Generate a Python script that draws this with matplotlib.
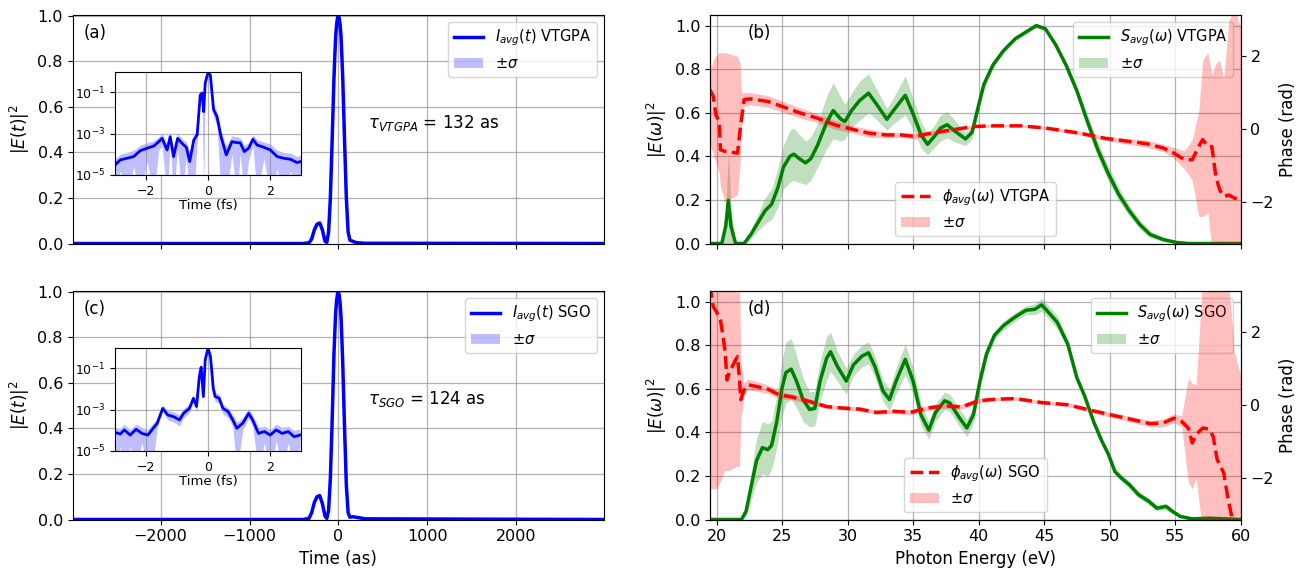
import numpy as np
import matplotlib
matplotlib.use("Agg")
import matplotlib.pyplot as plt
from matplotlib.ticker import NullLocator

# ---- time domain, main panels (as) ----
t_as = [-3000, -400, -330, -300, -270, -240, -210, -180, -150, -130, -110, -90, -70, -50,
        -40, -30, -20, -10, 0, 10, 20, 30, 40, 50, 70, 90, 110, 130, 160, 200, 300, 3000]
I_vtgpa = [0, 0, 0.003, 0.02, 0.06, 0.085, 0.09, 0.06, 0.01, 0.005, 0.05, 0.2, 0.45, 0.72,
           0.82, 0.91, 0.96, 0.99, 1.0, 0.99, 0.96, 0.91, 0.82, 0.72, 0.45, 0.2, 0.05, 0.015,
           0.01, 0.004, 0.001, 0]
I_sgo = [0, 0, 0.005, 0.03, 0.075, 0.1, 0.105, 0.07, 0.015, 0.005, 0.04, 0.18, 0.43, 0.72,
         0.82, 0.91, 0.96, 0.99, 1.0, 0.985, 0.95, 0.89, 0.79, 0.68, 0.4, 0.15, 0.03, 0.01,
         0.012, 0.01, 0.003, 0]
sig_I = [0, 0, 0.002, 0.004, 0.005, 0.006, 0.006, 0.005, 0.004, 0.004, 0.005, 0.008, 0.01, 0.01,
         0.009, 0.008, 0.006, 0.005, 0.004, 0.005, 0.006, 0.008, 0.009, 0.01, 0.01, 0.008, 0.005,
         0.003, 0.002, 0.002, 0.001, 0]

# ---- insets (fs, log10 of intensity) ----
tin_a = [-3.0, -2.83, -2.61, -2.40, -2.18, -1.97, -1.75, -1.59, -1.48, -1.32, -1.22, -1.11, -0.98,
         -0.84, -0.70, -0.59, -0.46, -0.35, -0.25, -0.19, -0.14, -0.09, 0.0, 0.075, 0.18, 0.29,
         0.42, 0.59, 0.77, 0.94, 1.04, 1.17, 1.31, 1.45, 1.58, 1.80, 2.01, 2.23, 2.44, 2.66, 2.87, 3.0]
lin_a = [-4.52, -4.27, -4.19, -4.11, -3.82, -3.71, -3.60, -3.39, -3.23, -3.79, -3.15, -4.11, -3.23,
         -3.47, -3.66, -4.35, -3.31, -3.06, -1.13, -1.05, -1.94, -0.56, -0.05, -0.16, -1.85, -2.18,
         -3.15, -4.03, -3.39, -3.44, -3.44, -3.87, -3.71, -3.27, -3.55, -3.66, -3.79, -4.11, -4.19,
         -4.24, -4.40, -4.35]
lup_a = [-4.2, -4.0, -3.9, -3.8, -3.55, -3.45, -3.35, -3.15, -3.0, -3.5, -2.95, -3.7, -3.0,
         -3.25, -3.4, -3.9, -3.05, -2.85, -0.95, -0.9, -1.6, -0.4, 0.0, -0.05, -1.6, -1.95,
         -2.85, -3.6, -3.1, -3.15, -3.2, -3.55, -3.45, -3.05, -3.3, -3.4, -3.5, -3.8, -3.9,
         -3.95, -4.1, -4.05]
llo_a = [-6, -4.8, -6, -4.6, -6, -4.3, -6, -3.8, -3.6, -6, -3.5, -6, -3.7,
         -6, -4.2, -6, -6, -3.5, -1.4, -1.3, -6, -0.75, -0.1, -0.3, -2.2, -2.6,
         -6, -6, -4.0, -6, -4.0, -6, -4.3, -3.6, -6, -4.2, -6, -4.7, -6,
         -4.8, -6, -4.8]

tin_c = [-2.98, -2.83, -2.70, -2.51, -2.32, -2.13, -1.94, -1.81, -1.64, -1.46, -1.30, -1.11, -0.92,
         -0.79, -0.60, -0.47, -0.37, -0.28, -0.22, -0.15, -0.09, 0.0, 0.08, 0.17, 0.23, 0.36,
         0.48, 0.65, 0.80, 0.93, 1.12, 1.31, 1.44, 1.63, 1.82, 2.01, 2.20, 2.39, 2.59, 2.78, 2.97]
lin_c = [-4.11, -4.18, -3.98, -4.23, -3.95, -4.15, -4.23, -3.98, -3.66, -2.94, -3.26, -3.34, -3.50,
         -3.18, -2.94, -2.45, -2.85, -1.40, -0.95, -2.37, -0.60, -0.03, -0.44, -1.97, -2.37, -2.45,
         -2.94, -3.10, -3.50, -3.90, -3.66, -3.18, -3.50, -4.15, -4.06, -4.23, -3.98, -4.15, -4.06,
         -4.31, -4.23]
lup_c = [-3.85, -3.9, -3.7, -3.95, -3.7, -3.85, -3.95, -3.7, -3.45, -2.8, -3.05, -3.1, -3.25,
         -2.95, -2.75, -2.3, -2.65, -1.25, -0.85, -2.1, -0.5, 0.0, -0.35, -1.75, -2.15, -2.25,
         -2.75, -2.9, -3.25, -3.6, -3.4, -2.95, -3.25, -3.85, -3.8, -3.95, -3.7, -3.85, -3.8,
         -4.0, -3.95]
llo_c = [-6, -4.8, -6, -4.8, -6, -4.6, -6, -6, -3.9, -3.1, -3.5, -3.6, -3.8,
         -3.4, -3.15, -2.6, -3.1, -1.6, -1.1, -2.7, -0.7, -0.06, -0.6, -2.3, -2.6, -2.7,
         -3.2, -3.4, -3.8, -6, -4.0, -3.4, -3.8, -6, -4.6, -6, -4.5, -6, -4.6,
         -6, -4.8]

# ---- spectra (eV) ----
E_b = [19.5, 20.4, 20.7, 20.9, 21.1, 21.45, 22.1, 22.6, 23.2, 23.7, 24.2, 24.7, 25.1, 25.6, 25.9,
       26.3, 26.8, 27.2, 27.7, 28.4, 28.9, 29.5, 29.8, 30.3, 30.9, 31.6, 32.2, 33.0, 33.5, 34.4,
       35.0, 35.6, 36.1, 36.6, 37.1, 37.6, 38.2, 39.0, 39.5, 39.9, 40.4, 41.1, 41.9, 42.8, 43.6,
       44.4, 45.1, 45.9, 46.7, 47.5, 48.3, 49.1, 49.9, 50.7, 51.5, 52.3, 53.1, 54.1, 55.1, 56.0, 60.0]
S_b = [0, 0, 0.08, 0.198, 0.08, 0, 0, 0.04, 0.10, 0.15, 0.18, 0.26, 0.35, 0.40, 0.41,
       0.39, 0.37, 0.39, 0.45, 0.555, 0.61, 0.57, 0.56, 0.61, 0.655, 0.69, 0.64, 0.57, 0.61, 0.68,
       0.595, 0.50, 0.455, 0.49, 0.53, 0.545, 0.515, 0.48, 0.51, 0.61, 0.73, 0.82, 0.885, 0.94, 0.97,
       1.0, 0.985, 0.91, 0.815, 0.70, 0.56, 0.43, 0.32, 0.225, 0.15, 0.087, 0.041, 0.018, 0.005, 0, 0]
sS_b = [0, 0, 0.08, 0.22, 0.08, 0, 0.005, 0.02, 0.04, 0.06, 0.07, 0.09, 0.1, 0.12, 0.12,
        0.11, 0.1, 0.1, 0.1, 0.12, 0.13, 0.1, 0.08, 0.08, 0.09, 0.09, 0.07, 0.05, 0.06, 0.09,
        0.07, 0.06, 0.05, 0.05, 0.06, 0.06, 0.05, 0.03, 0.03, 0.02, 0.02, 0.015, 0.01, 0.01, 0.01,
        0.01, 0.01, 0.01, 0.015, 0.02, 0.03, 0.035, 0.035, 0.03, 0.025, 0.02, 0.015, 0.01, 0.005, 0.002, 0]

Ep_b = [19.5, 19.75, 19.95, 20.2, 20.3, 20.65, 21.6, 21.8, 21.9, 22.1, 22.6, 23.9, 25.1, 26.4, 27.7,
        29.0, 30.3, 31.6, 32.9, 34.1, 35.1, 36.4, 38.0, 39.6, 40.9, 43.2, 45.1, 47.7, 49.6, 51.5,
        52.8, 54.1, 54.9, 55.7, 56.3, 56.8, 57.1, 57.5, 57.8, 58.1, 58.4, 58.7, 59.1, 59.55, 60.0]
ph_b = [1.08, 0.9, 0.39, 0.21, -0.57, -0.61, -0.66, -0.02, 0.26, 0.81, 0.83, 0.76, 0.61, 0.44, 0.30,
        0.12, 0.0, -0.11, -0.16, -0.16, -0.20, -0.11, -0.02, 0.07, 0.09, 0.09, 0.03, -0.11, -0.25, -0.34,
        -0.40, -0.52, -0.66, -0.84, -0.84, -0.48, -0.29, -0.48, -0.48, -1.30, -1.67, -1.85, -1.81, -1.90, -1.94]
phup_b = [1.6, 1.9, 2.0, 2.1, 2.1, 2.1, 2.0, 1.8, 1.0, 1.0, 1.0, 0.92, 0.76, 0.58, 0.42,
          0.24, 0.1, 0.0, -0.08, -0.09, -0.13, -0.05, 0.03, 0.11, 0.13, 0.12, 0.07, -0.06, -0.19, -0.26,
          -0.3, -0.42, -0.5, -0.6, -0.3, 0.5, 1.9, 2.1, 1.5, 1.8, 1.9, 1.4, 3.0, 3.3, 2.8]
phlo_b = [-0.4, -0.7, -0.9, -1.2, -1.6, -2.0, -1.8, -0.9, 0.0, 0.62, 0.66, 0.6, 0.46, 0.3, 0.18,
          0.0, -0.1, -0.22, -0.24, -0.23, -0.27, -0.17, -0.07, 0.03, 0.05, 0.06, -0.01, -0.16, -0.31, -0.42,
          -0.5, -0.62, -0.8, -1.1, -1.4, -2.4, -2.4, -2.3, -3.3, -3.3, -3.3, -3.3, -3.3, -3.3, -3.3]

E_d = [19.5, 21.9, 22.25, 22.6, 23.05, 23.5, 23.9, 24.2, 24.6, 25.0, 25.3, 25.7, 26.1, 26.6, 27.1,
       27.5, 27.9, 28.4, 28.7, 29.2, 29.9, 30.45, 31.1, 31.6, 32.1, 32.7, 33.2, 33.7, 34.4, 35.0,
       35.6, 36.2, 36.7, 37.4, 37.8, 38.5, 39.1, 39.6, 40.1, 40.6, 41.2, 41.9, 42.8, 43.6, 44.3,
       44.8, 45.2, 46.0, 46.8, 47.5, 48.1, 48.8, 49.4, 49.9, 50.4, 50.9, 51.5, 52.2, 53.0, 53.6,
       54.3, 54.8, 55.4, 56.3, 57.6, 60.0]
S_d = [0, 0, 0.037, 0.14, 0.27, 0.33, 0.32, 0.34, 0.45, 0.605, 0.675, 0.69, 0.635, 0.55, 0.505,
       0.51, 0.635, 0.74, 0.77, 0.705, 0.635, 0.71, 0.75, 0.765, 0.70, 0.59, 0.55, 0.635, 0.735, 0.635,
       0.48, 0.41, 0.49, 0.545, 0.535, 0.47, 0.42, 0.48, 0.635, 0.76, 0.845, 0.89, 0.93, 0.96, 0.965,
       0.985, 0.96, 0.905, 0.805, 0.65, 0.565, 0.445, 0.36, 0.30, 0.22, 0.19, 0.16, 0.114, 0.083, 0.052,
       0.06, 0.037, 0.014, 0.003, 0.006, 0]
sS_d = [0, 0, 0.02, 0.06, 0.1, 0.12, 0.12, 0.11, 0.12, 0.13, 0.14, 0.14, 0.12, 0.1, 0.08,
        0.08, 0.09, 0.1, 0.09, 0.07, 0.06, 0.05, 0.05, 0.05, 0.05, 0.05, 0.05, 0.06, 0.07, 0.06,
        0.05, 0.04, 0.04, 0.04, 0.04, 0.04, 0.04, 0.04, 0.03, 0.03, 0.02, 0.02, 0.02, 0.02, 0.025,
        0.03, 0.03, 0.03, 0.02, 0.015, 0.015, 0.015, 0.015, 0.015, 0.015, 0.015, 0.015, 0.015, 0.015, 0.012,
        0.015, 0.01, 0.008, 0.004, 0.004, 0]

Ep_d = [19.5, 19.75, 20.0, 20.3, 20.5, 20.65, 20.8, 20.95, 21.2, 21.45, 21.6, 21.75, 21.85, 22.1, 22.4,
        23.05, 23.9, 24.8, 25.8, 27.1, 28.4, 29.6, 30.9, 32.2, 33.5, 34.8, 36.1, 37.4, 38.7, 40.0,
        41.2, 42.8, 44.8, 46.8, 48.4, 50.0, 51.5, 53.1, 54.1, 54.9, 55.5, 56.0, 56.3, 56.6, 57.1,
        57.6, 57.9, 58.2, 58.7, 59.0, 59.3, 59.5, 60.0]
ph_d = [3.3, 2.70, 2.56, 2.33, 1.88, 1.47, 0.69, 0.88, 1.06, 1.24, 1.33, 0.69, 0.15, 0.42, 0.56,
        0.51, 0.44, 0.28, 0.22, 0.10, -0.04, -0.08, -0.11, -0.20, -0.17, -0.20, -0.08, -0.02, -0.05, 0.12,
        0.16, 0.18, 0.07, 0.01, -0.13, -0.26, -0.38, -0.51, -0.49, -0.36, -0.45, -0.63, -1.04, -0.81, -0.63,
        -0.66, -0.86, -1.49, -1.86, -2.5, -3.04, -3.5, -3.6]
phup_d = [3.5, 3.5, 3.5, 3.5, 3.5, 3.5, 3.5, 3.5, 3.5, 3.5, 3.5, 3.5, 1.2, 0.6, 0.72,
          0.65, 0.56, 0.38, 0.3, 0.17, 0.02, -0.02, -0.05, -0.14, -0.11, -0.13, -0.01, 0.05, 0.02, 0.18,
          0.21, 0.23, 0.12, 0.06, -0.07, -0.19, -0.3, -0.42, -0.38, -0.24, -0.3, 0.74, 0.6, 0.56, 3.5,
          3.5, 3.5, 3.5, 3.5, 3.5, 2.5, 1.5, 0.8]
phlo_d = [-2.3, -2.3, -2.3, -2.1, -1.9, -1.8, -1.8, -1.8, -1.75, -1.7, -1.68, -1.68, -0.4, 0.25, 0.42,
          0.38, 0.32, 0.18, 0.14, 0.03, -0.1, -0.14, -0.17, -0.26, -0.23, -0.27, -0.15, -0.09, -0.12, 0.06,
          0.11, 0.13, 0.02, -0.04, -0.19, -0.33, -0.46, -0.6, -0.6, -0.48, -0.6, -2.13, -2.3, -2.0, -3.5,
          -3.5, -3.5, -3.5, -3.5, -3.5, -3.5, -3.5, -3.5]

plt.rcParams['font.family'] = ['DejaVu Sans']
plt.rcParams['xtick.labelsize'] = 11.5
plt.rcParams['ytick.labelsize'] = 11.5

fig = plt.figure(figsize=(13.02, 5.69), dpi=100)
W, H = 1302.0, 569.0


def box(l, t, r, b):
    return [l / W, 1 - b / H, (r - l) / W, (b - t) / H]


def time_panel(rect, inset_rect, I, name, tau, letter, tin, lin, lup, llo, bottom):
    ax = fig.add_axes(rect)
    t = np.array(t_as)
    I = np.array(I)
    s = np.array(sig_I)
    ax.plot(t, I, color='blue', lw=2.5, label=r'$I_{avg}(t)$ ' + name)
    ax.fill_between(t, I - s, I + s, color='blue', alpha=0.25, lw=0, label=r'$\pm\sigma$')
    ax.set_xlim(-2990, 2990)
    ax.set_ylim(0, 1.005)
    ax.grid(True, color='gray', alpha=0.6, lw=0.9)
    ax.set_ylabel(r'$|E(t)|^2$', fontsize=12)
    ax.legend(loc='upper right', fontsize=10.5)
    ax.text(0.02, 0.918, letter, transform=ax.transAxes, fontsize=12, va='center')
    ax.text(0.556, 0.526, tau, transform=ax.transAxes, fontsize=12, va='center')
    if bottom:
        ax.set_xlabel('Time (as)', fontsize=12)
    else:
        ax.tick_params(labelbottom=False)

    ins = fig.add_axes(inset_rect)
    tf = np.array(tin)
    ins.plot(tf, 10 ** np.array(lin), color='blue', lw=2.0)
    ins.fill_between(tf, 10 ** np.array(llo), 10 ** np.array(lup), color='blue', alpha=0.25, lw=0)
    ins.set_yscale('log')
    ins.set_ylim(1e-5, 1)
    ins.set_xlim(-3, 3)
    ins.set_yticks([1e-5, 1e-3, 1e-1])
    ins.yaxis.set_minor_locator(NullLocator())
    ins.tick_params(labelsize=9)
    ins.grid(True, color='gray', alpha=0.6, lw=0.9)
    ins.set_xlabel('Time (fs)', fontsize=9.5, labelpad=1)


def spec_panel(rect, E, S, sS, Ep, ph, up, lo, name, letter, bottom):
    ax = fig.add_axes(rect)
    E = np.array(E)
    S = np.array(S)
    sS = np.array(sS)
    ax.plot(E, S, color='green', lw=2.5, label=r'$S_{avg}(\omega)$ ' + name)
    ax.fill_between(E, S - sS, S + sS, color='green', alpha=0.25, lw=0, label=r'$\pm\sigma$')
    ax.set_xlim(19.5, 60)
    ax.set_ylim(0, 1.05)
    ax.grid(True, color='gray', alpha=0.6, lw=0.9)
    ax.set_ylabel(r'$|E(\omega)|^2$', fontsize=12)
    ax.legend(loc='upper right', fontsize=10.5)
    ax.text(0.07, 0.918, letter, transform=ax.transAxes, fontsize=12, va='center')
    if bottom:
        ax.set_xlabel('Photon Energy (eV)', fontsize=12)
    else:
        ax.tick_params(labelbottom=False)

    ax2 = ax.twinx()
    ax2.plot(Ep, ph, color='red', lw=2.5, ls='--', label=r'$\phi_{avg}(\omega)$ ' + name)
    ax2.fill_between(Ep, lo, up, color='red', alpha=0.25, lw=0, label=r'$\pm\sigma$')
    ax2.set_ylim(-np.pi, np.pi)
    ax2.set_yticks([-2, 0, 2])
    ax2.set_ylabel('Phase (rad)', fontsize=12)
    ax2.legend(loc='lower center', fontsize=10.5)


time_panel(box(72.7, 14.7, 604, 243.5), box(115, 71.5, 301, 175), I_vtgpa, 'VTGPA',
           r'$\tau_{VTGPA}$ = 132 as', '(a)', tin_a, lin_a, lup_a, llo_a, False)
time_panel(box(72.7, 290.7, 604, 519.5), box(115, 347.5, 301, 451), I_sgo, 'SGO',
           r'$\tau_{SGO}$ = 124 as', '(c)', tin_c, lin_c, lup_c, llo_c, True)
spec_panel(box(710, 14.7, 1240.7, 243.5), E_b, S_b, sS_b, Ep_b, ph_b, phup_b, phlo_b,
           'VTGPA', '(b)', False)
spec_panel(box(710, 290.7, 1240.7, 519.5), E_d, S_d, sS_d, Ep_d, ph_d, phup_d, phlo_d,
           'SGO', '(d)', True)

fig.savefig('out.png', dpi=100)
